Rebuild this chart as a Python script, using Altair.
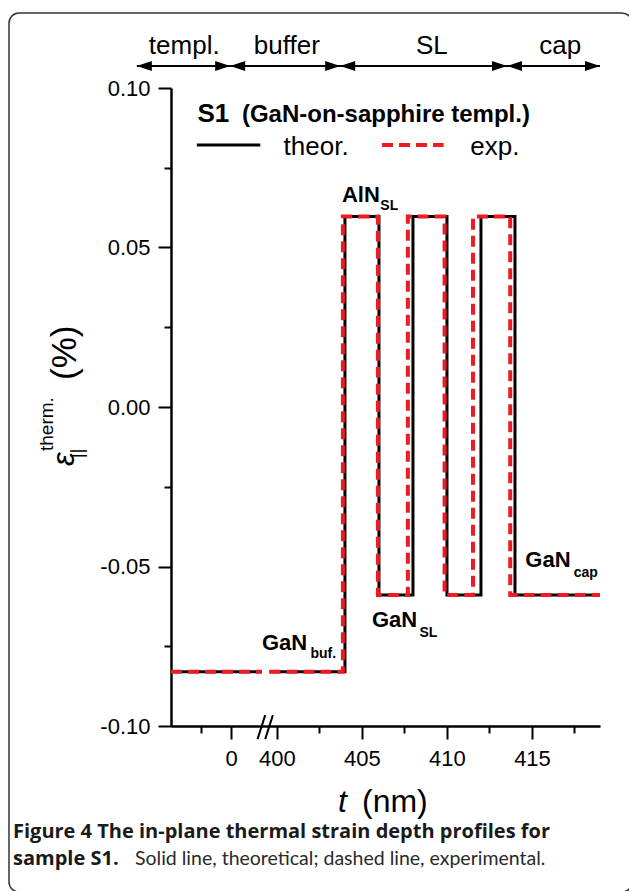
import altair as alt
import pandas as pd

# ---------------- data (x in axis units: nm after the break; template part shifted) ----------------
ZERO_POS = 397.31            # axis position of t = 0 nm (before the axis break)
X_MIN, X_MAX = 393.77, 419.0
Y_MIN, Y_MAX = -0.10, 0.10

buf_level = -0.0830          # GaN buffer / template
aln_level = 0.0597           # AlN SL layers
gan_level = -0.0589          # GaN SL layers and cap

pre_break_t = [-3.54, 1.81]  # template segment, t relative to interface (nm)
post_break_start = 399.56

theor_steps = [404.0, 406.0, 408.0, 410.0, 412.0, 414.0]
exp_steps = [403.88, 405.94, 407.70, 409.86, 411.53, 413.72]
levels = [buf_level, aln_level, gan_level, aln_level, gan_level, aln_level, gan_level]

x_major_ticks = [ZERO_POS, 400, 405, 410, 415]
x_minor_ticks = [395.53, 402.5, 407.5, 412.5, 417.5]
y_major_ticks = [-0.10, -0.05, 0.0, 0.05, 0.10]
y_minor_ticks = [-0.075, -0.025, 0.025, 0.075]

region_bounds = [391.76, 397.25, 403.72, 413.53, 419.0]
region_names = ["templ.", "buffer", "SL", "cap"]
region_label_x = [394.55, 400.58, 409.11, 416.66]
ARROW_Y = 0.1069
REGION_LABEL_Y = 0.1107

BLACK = "#000000"
RED = "#ee1b22"
FONT = "Liberation Sans"
CAP_BOLD = "Open Sans"
CAP_REG = "Lato"

OX, OY = 171, 88  # plot origin in the page


def profile(steps, name):
    rows = []
    rows.append(dict(x=ZERO_POS + pre_break_t[0], y=levels[0], seg=name + "a", o=0))
    rows.append(dict(x=ZERO_POS + pre_break_t[1], y=levels[0], seg=name + "a", o=1))
    xs = [post_break_start] + steps + [X_MAX]
    o = 0
    for i, lv in enumerate(levels):
        rows.append(dict(x=xs[i], y=lv, seg=name + "b", o=o)); o += 1
        rows.append(dict(x=xs[i + 1], y=lv, seg=name + "b", o=o)); o += 1
    return pd.DataFrame(rows)


theor_df = profile(theor_steps, "theor")
exp_df = profile(exp_steps, "exp")

xscale = alt.Scale(domain=[X_MIN, X_MAX], nice=False, zero=False)
yscale = alt.Scale(domain=[Y_MIN, Y_MAX], nice=False, zero=False)

axis_common = dict(grid=False, domainColor=BLACK, domainWidth=2.5, tickColor=BLACK,
                   tickWidth=2, labelColor=BLACK, labelFont=FONT, labelFontSize=22,
                   title=None)

x_major_axis = alt.Axis(values=x_major_ticks, tickSize=13, labelPadding=9, orient="bottom",
                        labelExpr="datum.value < 399 ? '0' : format(datum.value, 'd')",
                        labelFlush=False, labelOverlap=False, **axis_common)
y_major_axis = alt.Axis(values=y_major_ticks, tickSize=13, labelPadding=8, orient="left",
                        labelExpr="replace(format(datum.value, '.2f'), '\u2212', '-')",
                        labelOverlap=False, **axis_common)
x_minor_axis = alt.Axis(values=x_minor_ticks, tickSize=7, labels=False, domain=False, orient="bottom",
                        grid=False, tickColor=BLACK, tickWidth=2, title=None)
y_minor_axis = alt.Axis(values=y_minor_ticks, tickSize=7, labels=False, domain=False, orient="left",
                        grid=False, tickColor=BLACK, tickWidth=2, title=None)

theor_line = alt.Chart(theor_df).mark_line(color=BLACK, strokeWidth=3, strokeJoin="miter").encode(
    x=alt.X("x:Q", scale=xscale, axis=x_major_axis),
    y=alt.Y("y:Q", scale=yscale, axis=y_major_axis),
    detail="seg:N", order="o:Q")

exp_line = alt.Chart(exp_df).mark_line(color=RED, strokeWidth=4, strokeDash=[11, 6]).encode(
    x=alt.X("x:Q", scale=xscale, axis=x_minor_axis),
    y=alt.Y("y:Q", scale=yscale, axis=y_minor_axis),
    detail="seg:N", order="o:Q")


def xq(field="x"):
    return alt.X(f"{field}:Q", scale=xscale, axis=None)


def yq(field="y"):
    return alt.Y(f"{field}:Q", scale=yscale, axis=None)


# axis break marker "//"
break_df = pd.DataFrame({"x": [398.86, 399.31], "x2": [399.31, 399.76],
                         "y": [-0.1041, -0.1041], "y2": [-0.0966, -0.0966]})
break_marks = alt.Chart(break_df).mark_rule(color=BLACK, strokeWidth=2).encode(
    x=xq(), x2="x2:Q", y=yq(), y2="y2:Q")

# region arrows on top
seg_df = pd.DataFrame({"x": region_bounds[:-1], "x2": region_bounds[1:], "y": [ARROW_Y] * 4})
arrow_lines = alt.Chart(seg_df).mark_rule(color=BLACK, strokeWidth=2).encode(
    x=xq(), x2="x2:Q", y=yq())
right_heads = alt.Chart(pd.DataFrame({"x": region_bounds[1:], "y": [ARROW_Y] * 4})).mark_point(
    shape="M0,0L-1,-0.34L-1,0.34Z", filled=True, color=BLACK, size=900, opacity=1).encode(x=xq(), y=yq())
left_heads = alt.Chart(pd.DataFrame({"x": region_bounds[:-1], "y": [ARROW_Y] * 4})).mark_point(
    shape="M0,0L1,-0.34L1,0.34Z", filled=True, color=BLACK, size=900, opacity=1).encode(x=xq(), y=yq())
region_labels = alt.Chart(pd.DataFrame({"x": region_label_x, "y": [REGION_LABEL_Y] * 4,
                                        "t": region_names})).mark_text(
    font=FONT, fontSize=26, color=BLACK, align="center", baseline="alphabetic").encode(
    x=xq(), y=yq(), text="t:N")

# in-plot legend
leg_lines = pd.DataFrame({"x": [395.29, 406.18], "x2": [399.02, 409.80], "y": [0.0821, 0.0821],
                          "s": ["theor", "exp"]})
leg_black = alt.Chart(leg_lines.iloc[[0]]).mark_rule(color=BLACK, strokeWidth=3).encode(
    x=xq(), x2="x2:Q", y=yq())
leg_red = alt.Chart(leg_lines.iloc[[1]]).mark_rule(color=RED, strokeWidth=4, strokeDash=[11, 6]).encode(
    x=xq(), x2="x2:Q", y=yq())
leg_text = alt.Chart(pd.DataFrame({"x": [400.39, 411.37], "y": [0.0790, 0.0790],
                                   "t": ["theor.", "exp."]})).mark_text(
    font=FONT, fontSize=26, color=BLACK, align="left", baseline="alphabetic").encode(
    x=xq(), y=yq(), text="t:N")
s1_text = alt.Chart(pd.DataFrame({"x": [395.33], "y": [0.0893], "t": ["S1"]})).mark_text(
    font=FONT, fontSize=26, fontWeight="bold", color=BLACK, align="left", baseline="alphabetic").encode(
    x=xq(), y=yq(), text="t:N")
s1_sub = alt.Chart(pd.DataFrame({"x": [397.94], "y": [0.0893], "t": ["(GaN-on-sapphire templ.)"]})).mark_text(
    font=FONT, fontSize=24, fontWeight="bold", color=BLACK, align="left", baseline="alphabetic").encode(
    x=xq(), y=yq(), text="t:N")

# layer annotations
ann_main = pd.DataFrame({"x": [403.82, 405.59, 399.12, 414.61],
                         "y": [0.0644, -0.0689, -0.0762, -0.0501],
                         "t": ["AlN", "GaN", "GaN", "GaN"]})
ann_sub = pd.DataFrame({"x": [406.08, 408.38, 401.97, 417.45],
                        "y": [0.0618, -0.0720, -0.0787, -0.0532],
                        "t": ["SL", "SL", "buf.", "cap"]})
ann_main_marks = alt.Chart(ann_main).mark_text(
    font=FONT, fontSize=22, fontWeight="bold", color=BLACK, align="left", baseline="alphabetic").encode(
    x=xq(), y=yq(), text="t:N")
ann_sub_marks = alt.Chart(ann_sub).mark_text(
    font=FONT, fontSize=14, fontWeight="bold", color=BLACK, align="left", baseline="alphabetic").encode(
    x=xq(), y=yq(), text="t:N")


def page_text(text, px, py, size, weight="normal", style="normal", angle=0, font=FONT, color=BLACK,
              align="left"):
    kw = dict(text=text, font=font, fontSize=size, fontWeight=weight, fontStyle=style, color=color,
              align=align, baseline="alphabetic")
    if angle:
        kw["angle"] = angle
    return alt.Chart(pd.DataFrame({"k": [0]})).mark_text(**kw).encode(
        x=alt.value(px - OX), y=alt.value(py - OY))


# y-axis title: ε_||^therm. (%)
ytitle = [
    page_text("ε", 74, 466, 31, style="italic", angle=270),
    page_text("therm.", 53, 451, 19, angle=270),
    page_text("||", 83, 458, 18, angle=270),
    page_text("(%)", 76, 380, 35, angle=270),
]
# x-axis title: t (nm)
xtitle = [
    page_text("t", 338, 812, 32, style="italic"),
    page_text("(nm)", 362, 812, 32),
]
# caption
caption = [
    page_text("Figure 4 The in-plane thermal strain depth profiles for", 13, 838, 20, weight="bold",
              font=CAP_BOLD, color="#1a1a1a"),
    page_text("sample S1.", 13, 865, 20, weight="bold", font=CAP_BOLD, color="#1a1a1a"),
    page_text("Solid line, theoretical; dashed line, experimental.", 135, 865, 19.5, font=CAP_REG,
              color="#2a2a2a"),
]

border = alt.Chart(pd.DataFrame({"k": [0]})).mark_rect(
    fill="white", fillOpacity=0, stroke="#333333", strokeWidth=1.5, cornerRadius=10).encode(
    x=alt.value(9 - OX), x2=alt.value(632 - OX), y=alt.value(13 - OY), y2=alt.value(892 - OY))

chart = alt.layer(
    border, theor_line, exp_line, break_marks, arrow_lines, right_heads, left_heads, region_labels,
    leg_black, leg_red, leg_text, s1_text, s1_sub, ann_main_marks, ann_sub_marks,
    *ytitle, *xtitle, *caption
).resolve_axis(x="independent", y="independent").properties(
    width=429, height=638,
    padding={"left": OX, "top": OY, "right": 629 - 600, "bottom": 891 - 726},
    autosize=alt.AutoSizeParams(type="none"),
    background="white",
).configure_view(strokeWidth=0)

chart.save("out.html", embed_options={"renderer": "svg", "actions": False})
